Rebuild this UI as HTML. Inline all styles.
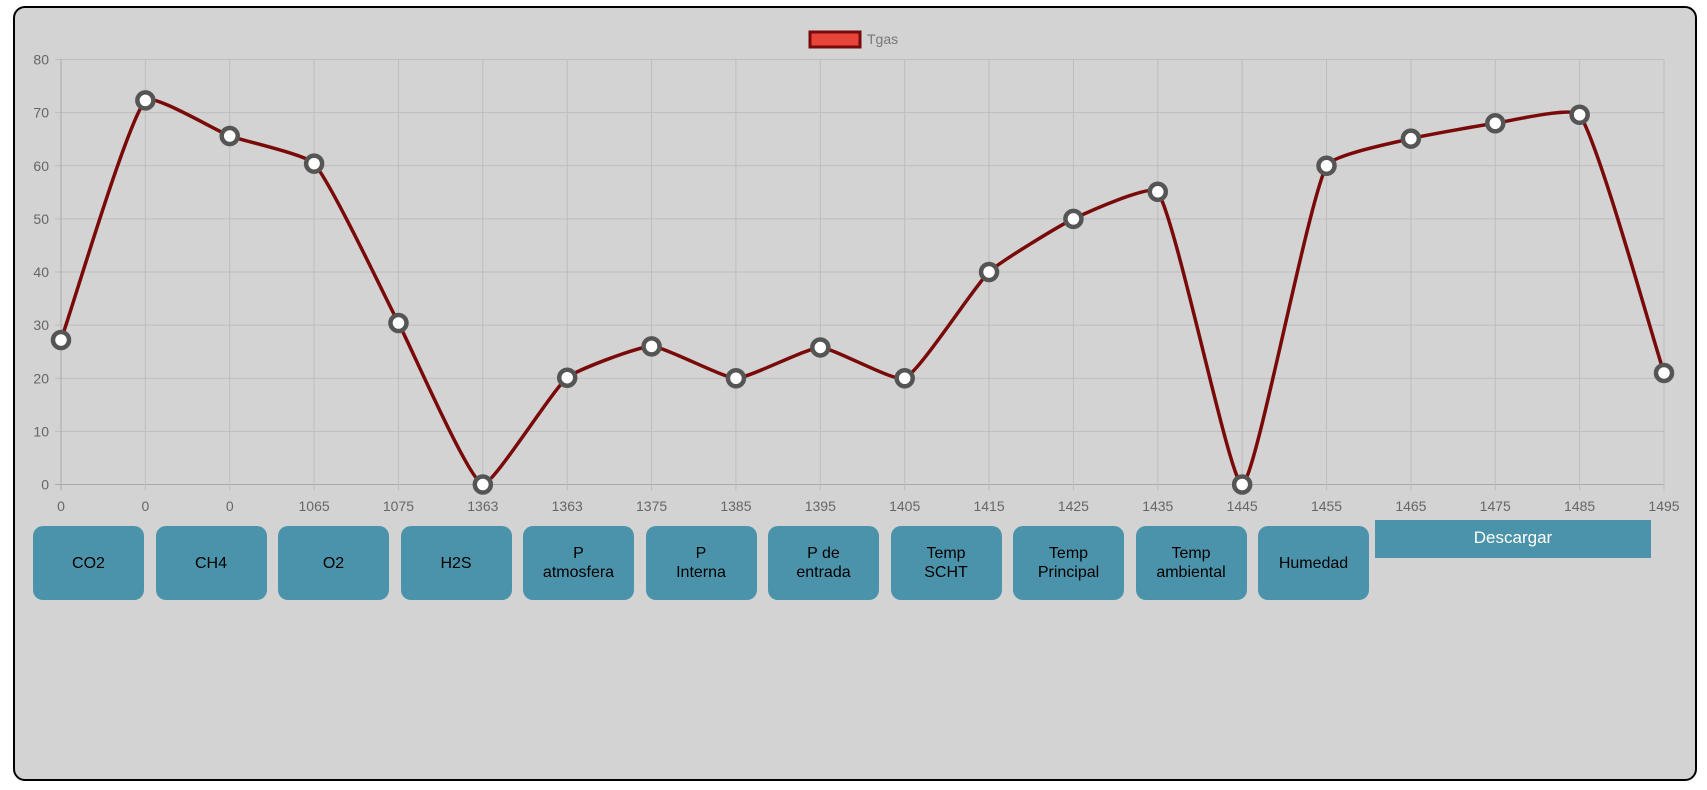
<!DOCTYPE html>
<html><head><meta charset="utf-8"><style>
body{margin:0;width:1707px;height:790px;background:#fff;font-family:"Liberation Sans",Arial,sans-serif;overflow:hidden;position:relative}
.panel{position:absolute;left:13px;top:6px;width:1684px;height:775px;background:#d3d3d3;border:2px solid #000;border-radius:12px;box-sizing:border-box}
.btn{position:absolute;top:526px;width:111px;height:74px;background:#4b93ab;border-radius:10px;display:flex;align-items:center;justify-content:center;text-align:center;font-size:16px;color:#000;line-height:19px}
.dl{position:absolute;left:1375px;top:520px;width:276px;height:38px;background:#4b93ab;color:#fff;font-size:17px;text-align:center;line-height:36px}
svg{position:absolute;left:0;top:0}
</style></head><body>
<div class="panel"></div>
<svg id="chart" width="1707" height="790"></svg>
<div id="btns"></div>
<div class="dl">Descargar</div>
<script>
const categories=["0","0","0","1065","1075","1363","1363","1375","1385","1395","1405","1415","1425","1435","1445","1455","1465","1475","1485","1495"];
const tgasValues=[27.2,72.3,65.6,60.4,30.4,0,20.1,26,20,25.8,20,40,50,55.1,0,60,65.1,68,69.6,21];
const yTicks=[0,10,20,30,40,50,60,70,80];
const buttonLabels=["CO2","CH4","O2","H2S","P<br>atmosfera","P<br>Interna","P de<br>entrada","Temp<br>SCHT","Temp<br>Principal","Temp<br>ambiental","Humedad"];
const L=61,R=1664,T=59.5,B=484.5;
const xs=i=>L+i*(R-L)/(categories.length-1);
const ys=v=>B-(v/80)*(B-T);
const svg=document.getElementById('chart');const NS='http://www.w3.org/2000/svg';
function mk(t,a,p){const e=document.createElementNS(NS,t);for(const k in a)e.setAttribute(k,a[k]);(p||svg).appendChild(e);return e;}
yTicks.forEach(v=>{
 const g=mk('line',{x1:L-6,x2:R,y1:ys(v),y2:ys(v),stroke:v===0?'#aaa':'#bdbdbd','stroke-width':1});
 
 const t=mk('text',{x:L-12,y:ys(v)+5,'text-anchor':'end','font-size':14,fill:'#666'});t.textContent=v;
 
});
categories.forEach((c,i)=>{
 const g=mk('line',{x1:xs(i),x2:xs(i),y1:T,y2:B+6,stroke:i===0?'#aaa':'#bdbdbd','stroke-width':1});
 
 const t=mk('text',{x:xs(i),y:511,'text-anchor':'middle','font-size':14,fill:'#666'});t.textContent=c;
 
});
const pts=tgasValues.map((v,i)=>({x:xs(i),y:ys(v)}));
function cp(p,c,n,t){const d01=Math.hypot(c.x-p.x,c.y-p.y),d12=Math.hypot(n.x-c.x,n.y-c.y);let s01=d01/(d01+d12)||0,s12=d12/(d01+d12)||0;const fa=t*s01,fb=t*s12;return{p:{x:c.x-fa*(n.x-p.x),y:c.y-fa*(n.y-p.y)},n:{x:c.x+fb*(n.x-p.x),y:c.y+fb*(n.y-p.y)}};}
const cps=pts.map((c,i)=>cp(pts[Math.max(0,i-1)],c,pts[Math.min(pts.length-1,i+1)],0.15));
const clampY=y=>Math.min(B,Math.max(T,y));
let d=`M${pts[0].x},${pts[0].y}`;
for(let i=1;i<pts.length;i++){const a=cps[i-1].n,b=cps[i].p;d+=` C${a.x},${clampY(a.y)} ${b.x},${clampY(b.y)} ${pts[i].x},${pts[i].y}`;}
const line=mk('path',{d:d,fill:'none',stroke:'#7a0a0a','stroke-width':3.5});

pts.forEach(p=>{const c=mk('circle',{cx:p.x,cy:p.y,r:8,fill:'#fff',stroke:'#555','stroke-width':4.5});
 });
const lb=mk('rect',{x:810,y:32,width:50,height:15,fill:'#e8443a',stroke:'#7a0a0a','stroke-width':3});

const lt=mk('text',{x:867,y:44,'font-size':14,fill:'#777'});lt.textContent='Tgas';

const bc=document.getElementById('btns');
buttonLabels.forEach((b,i)=>{const e=document.createElement('div');e.className='btn';e.style.left=(33+i*122.5)+'px';e.innerHTML=b;
 
 
 bc.appendChild(e);});
</script>
</body></html>
